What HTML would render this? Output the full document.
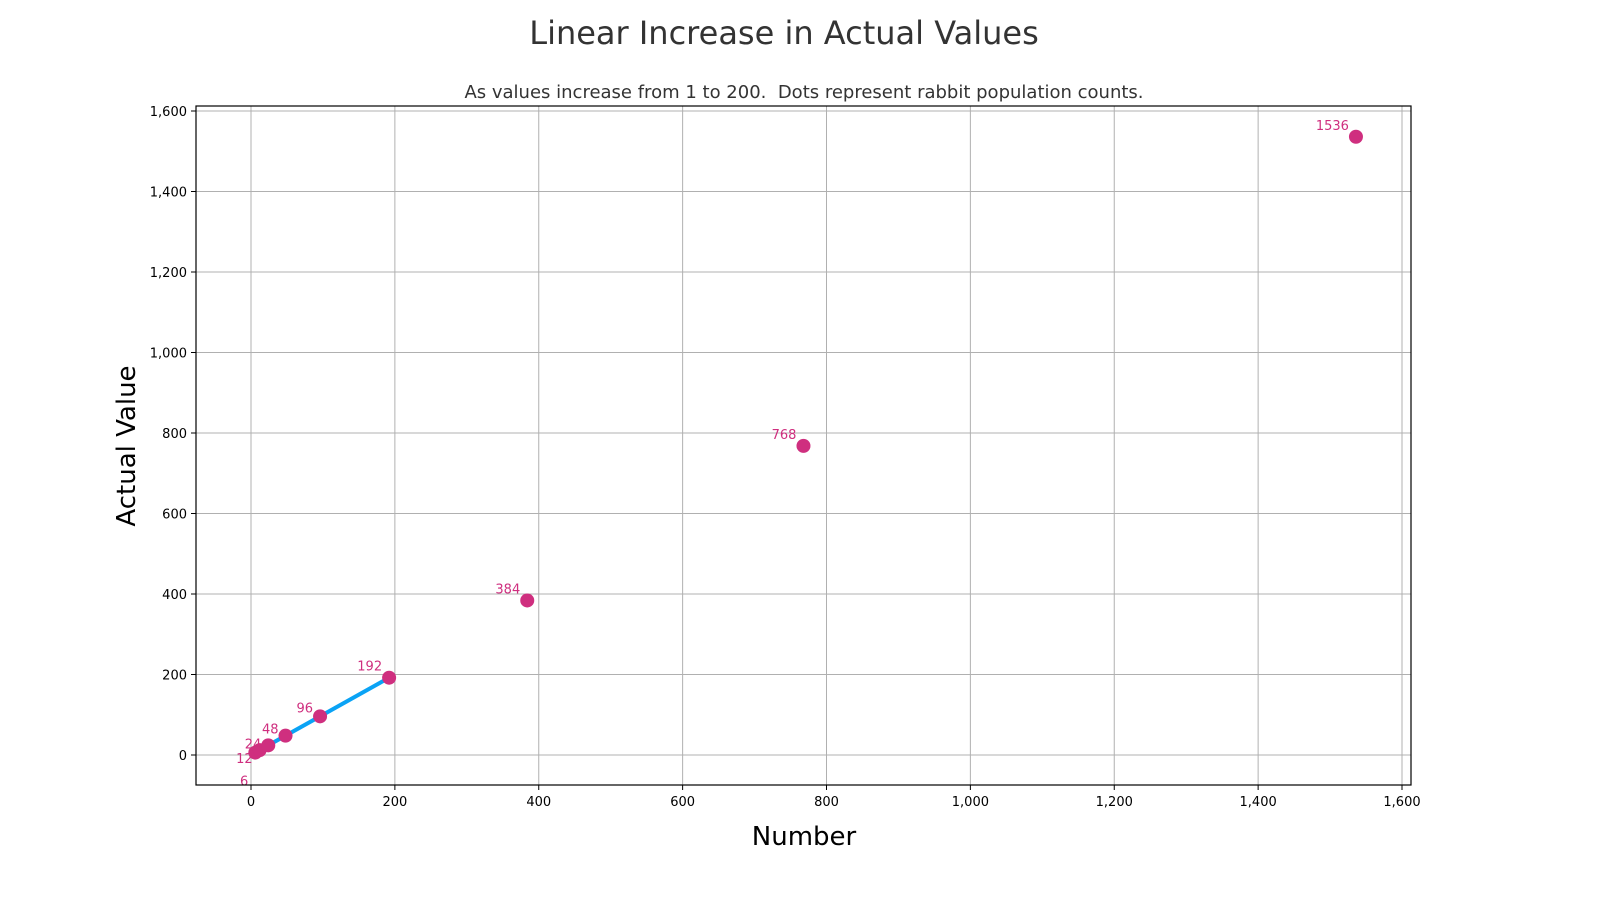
<!DOCTYPE html>
<html><head><meta charset="utf-8"><style>
body{margin:0;background:#fff;}
svg text{font-family:"DejaVu Sans","Liberation Sans",sans-serif;}
</style></head><body>
<svg id="chart" width="1600" height="900" xmlns="http://www.w3.org/2000/svg">
<text x="784" y="44" font-size="32" fill="#333" text-anchor="middle">Linear Increase in Actual Values</text>
<text x="804" y="98" font-size="18" fill="#333" text-anchor="middle" style="white-space:pre" xml:space="preserve">As values increase from 1 to 200.  Dots represent rabbit population counts.</text>
<g id="grid"></g><g id="marks"></g>
<rect x="196" y="106" width="1215" height="679" fill="none" stroke="#000" stroke-width="1.2"/>
<text x="804" y="845" font-size="26" text-anchor="middle" fill="#000">Number</text>
<text transform="translate(135,446) rotate(-90)" font-size="26" text-anchor="middle" fill="#000">Actual Value</text>
</svg>
<script>
const xTicks=[0,200,400,600,800,1000,1200,1400,1600];
const yTicks=[0,200,400,600,800,1000,1200,1400,1600];
const pointValues=[6,12,24,48,96,192,384,768,1536];
const lineStart=1, lineEnd=200;
const labelDy=[33,13,3,-2,-4,-7,-7,-7,-7];
const X=v=>251+v*(1402-251)/1600;
const Y=v=>755-v*(755-111)/1600;
const NS="http://www.w3.org/2000/svg";
const grid=document.getElementById('grid'), marks=document.getElementById('marks');
function mk(tag,attrs,parent){const e=document.createElementNS(NS,tag);for(const k in attrs)e.setAttribute(k,attrs[k]);parent.appendChild(e);return e;}
const fmt=v=>v.toLocaleString('en-US');
xTicks.forEach(t=>{
 const l=mk('line',{x1:X(t),x2:X(t),y1:106,y2:785,stroke:'#b0b0b0','stroke-width':1},grid);
 
 
 mk('line',{x1:X(t),x2:X(t),y1:785,y2:790,stroke:'#000'},grid);
 const tx=mk('text',{x:X(t),y:806,'font-size':13,'text-anchor':'middle',fill:'#000'},grid);
 tx.textContent=fmt(t);
 
 
});
yTicks.forEach(t=>{
 const l=mk('line',{x1:196,x2:1411,y1:Y(t),y2:Y(t),stroke:'#b0b0b0','stroke-width':1},grid);
 
 
 mk('line',{x1:191,x2:196,y1:Y(t),y2:Y(t),stroke:'#000'},grid);
 const tx=mk('text',{x:187,y:Y(t)+5,'font-size':13,'text-anchor':'end',fill:'#000'},grid);
 tx.textContent=fmt(t);
 
 
});
const ln=mk('line',{x1:X(lineStart),y1:Y(lineStart),x2:X(lineEnd),y2:Y(lineEnd),stroke:'#0aa3f5','stroke-width':4},marks);


pointValues.forEach((v,i)=>{
 const c=mk('circle',{cx:X(v),cy:Y(v),r:7,fill:'#cf2f7f'},marks);
 
 
 const t=mk('text',{x:X(v)-7,y:Y(v)+labelDy[i],'font-size':13,'text-anchor':'end',fill:'#cf2f7f'},marks);
 t.textContent=v;
 
 
});
</script>
</body></html>
